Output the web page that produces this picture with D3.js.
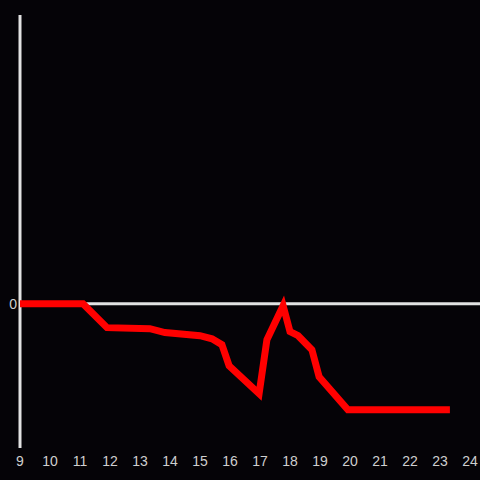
<!DOCTYPE html>
<html>
<head>
<meta charset="utf-8">
<script src="https://cdn.jsdelivr.net/npm/d3@7"></script>
<style>
  html, body { margin: 0; padding: 0; background: #050307; }
  svg { display: block; }
</style>
</head>
<body>
<svg id="chart" width="480" height="480"></svg>
<script>
// hours of the day and the value
const hours = [9, 11.1, 11.9, 13.33, 13.83, 15.0, 15.4, 15.73, 15.97, 16.97, 17.23, 17.77, 18.0, 18.27, 18.73, 18.97, 19.93, 23.33];
const values = [0, 0, -0.166, -0.173, -0.2, -0.222, -0.243, -0.284, -0.43, -0.624, -0.25, -0.014, -0.194, -0.222, -0.319, -0.506, -0.735, -0.735];
const xTicks = [9, 10, 11, 12, 13, 14, 15, 16, 17, 18, 19, 20, 21, 22, 23, 24];
const yTicks = [0];

var svg = d3.select("#chart"),
    margin = {top: 15, right: 10, bottom: 32, left: 20},
    width = +svg.attr("width") - margin.left - margin.right,
    height = +svg.attr("height") - margin.top - margin.bottom;

svg.append("rect")
    .attr("width", 480).attr("height", 480)
    .attr("fill", "#050307");

var x = d3.scaleLinear().domain([9, 24]).range([0, width]);
var y = d3.scaleLinear().domain([-1, 2]).range([height, 0]);

var g = svg.append("g")
    .attr("transform", "translate(" + margin.left + "," + margin.top + ")");

// vertical axis line
g.append("line")
    .attr("x1", 0).attr("x2", 0)
    .attr("y1", 0).attr("y2", height)
    .attr("stroke", "#e2e2e2")
    .attr("stroke-width", 3);

// zero line runs to the right edge
g.append("line")
    .attr("x1", 0).attr("x2", width + margin.right)
    .attr("y1", y(0)).attr("y2", y(0))
    .attr("stroke", "#e2e2e2")
    .attr("stroke-width", 3);

// y tick labels
g.selectAll(".ylab")
    .data(yTicks)
    .enter().append("text")
    .attr("class", "ylab")
    .attr("x", -3)
    .attr("y", d => y(d))
    .attr("dy", "0.35em")
    .attr("text-anchor", "end")
    .attr("fill", "#cfcfcf")
    .style("font", "14px 'Liberation Sans', Arial, sans-serif")
    .text(d => d);

// x tick labels
g.selectAll(".xlab")
    .data(xTicks)
    .enter().append("text")
    .attr("class", "xlab")
    .attr("x", d => x(d))
    .attr("y", height + 18)
    .attr("text-anchor", "middle")
    .attr("fill", "#cfcfcf")
    .style("font", "14px 'Liberation Sans', Arial, sans-serif")
    .text(d => d);

// the red series
var data = hours.map((h, i) => ({h: h, v: values[i]}));
g.append("path")
    .datum(data)
    .attr("fill", "none")
    .attr("stroke", "#ff0000")
    .attr("stroke-width", 7)
    .attr("d", d3.line()
        .x(d => x(d.h))
        .y(d => y(d.v)));
</script>
</body>
</html>
